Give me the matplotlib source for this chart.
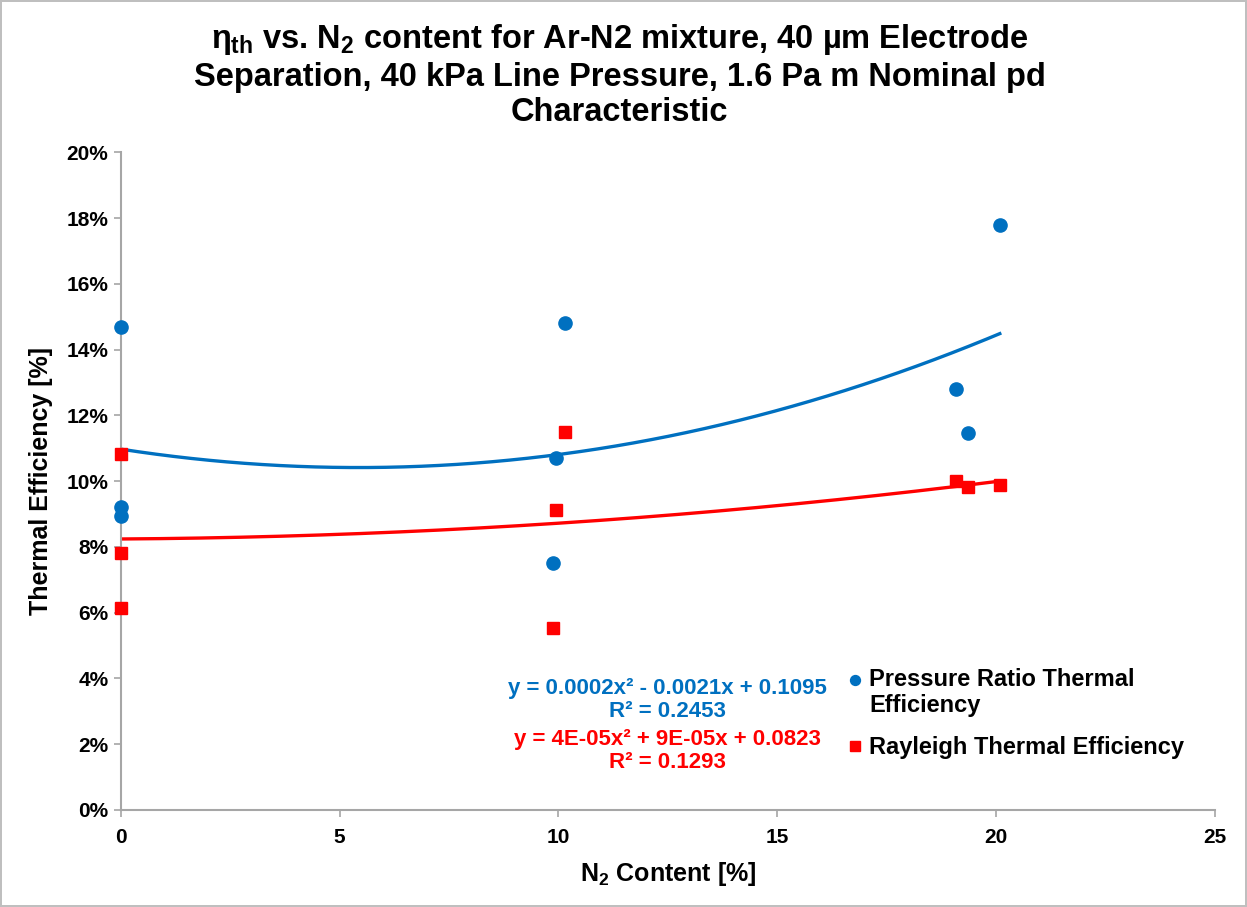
import numpy as np
import matplotlib.pyplot as plt
from matplotlib.ticker import PercentFormatter
from matplotlib.transforms import ScaledTranslation

plt.rcParams['font.family'] = ['Liberation Sans', 'DejaVu Sans']
plt.rcParams['font.weight'] = 'bold'
plt.rcParams['mathtext.fontset'] = 'custom'
plt.rcParams['mathtext.rm'] = 'Liberation Sans:bold'
plt.rcParams['mathtext.it'] = 'Liberation Sans:bold'
plt.rcParams['mathtext.bf'] = 'Liberation Sans:bold'

# N2 content [%] and efficiencies [fraction]
n2_blue = [0.0, 0.0, 0.0, 10.15, 9.95, 9.87, 19.1, 19.36, 20.09]
pr_eff = [0.1468, 0.0921, 0.0894, 0.1480, 0.1070, 0.0751, 0.1280, 0.1146, 0.1778]
n2_red = [0.0, 0.0, 0.0, 10.15, 9.95, 9.87, 19.1, 19.36, 20.09]
ray_eff = [0.1082, 0.0781, 0.0614, 0.1149, 0.0912, 0.0553, 0.1000, 0.0982, 0.0988]

pr_eq = 'y = 0.0002x² - 0.0021x + 0.1095'
ray_eq = 'y = 4E-05x² + 9E-05x + 0.0823'
pr_r2 = 0.2453
ray_r2 = 0.1293

BLUE = '#0070C0'
RED = '#FF0000'
GREY = '#A6A6A6'

fig = plt.figure(figsize=(12.47, 9.07), dpi=100)
fig.patch.set_edgecolor('#BFBFBF')
fig.patch.set_linewidth(1.5)
ax = fig.add_axes([0.097, 0.107, 0.877, 0.725])

# second order polynomial trendlines
pr_fit = np.polyfit(n2_blue, pr_eff, 2)
ray_fit = np.polyfit(n2_red, ray_eff, 2)
xs = np.linspace(0, max(n2_blue), 200)
ax.plot(xs, np.polyval(pr_fit, xs), color=BLUE, lw=2.4, zorder=2)
ax.plot(xs, np.polyval(ray_fit, xs), color=RED, lw=2.4, zorder=2)

ax.plot(n2_blue, pr_eff, 'o', color=BLUE, ms=9.5, ls='none',
        label='Pressure Ratio Thermal\nEfficiency', zorder=3, clip_on=False)
ax.plot(n2_red, ray_eff, 's', color=RED, ms=9, ls='none',
        label='Rayleigh Thermal Efficiency', zorder=3, clip_on=False)

ax.set_xlim(0, 25)
ax.set_ylim(0, 0.20)
ax.set_xticks(np.arange(0, 26, 5))
ax.set_yticks(np.arange(0, 0.201, 0.02))
ax.yaxis.set_major_formatter(PercentFormatter(1.0, decimals=0))
ax.tick_params(axis='both', labelsize=15, color=GREY, length=5, width=1.2)
ax.tick_params(axis='y', pad=4)
ax.tick_params(axis='x', pad=8)
for lbl in ax.get_xticklabels() + ax.get_yticklabels():
    lbl.set_fontweight('bold')

for side in ['top', 'right']:
    ax.spines[side].set_visible(False)
for side in ['left', 'bottom']:
    ax.spines[side].set_color(GREY)
    ax.spines[side].set_linewidth(1.5)

ax.set_xlabel(r'N$_2$ Content [%]', fontsize=18, fontweight='bold', labelpad=9)
ax.set_ylabel('Thermal Efficiency [%]', fontsize=18, fontweight='bold', labelpad=10)

fig.text(0.497, 0.976,
         r'$\eta_{\mathrm{th}}$ vs. N$_2$ content for Ar-N2 mixture, 40 µm Electrode' '\n'
         'Separation, 40 kPa Line Pressure, 1.6 Pa m Nominal pd\nCharacteristic',
         ha='center', va='top', fontsize=23.5, fontweight='bold', linespacing=1.2)

ax.text(0.5, 0.167, '%s\nR² = %.4f' % (pr_eq, pr_r2),
        transform=ax.transAxes, ha='center', va='center', color=BLUE,
        fontsize=16, fontweight='bold', linespacing=1.15)
ax.text(0.5, 0.09, '%s\nR² = %.4f' % (ray_eq, ray_r2),
        transform=ax.transAxes, ha='center', va='center', color=RED,
        fontsize=16, fontweight='bold', linespacing=1.15)

leg = ax.legend(loc='upper left', bbox_to_anchor=(0.654, 0.234), frameon=False,
                prop={'size': 17, 'weight': 'bold'}, handlelength=0.6, borderpad=0,
                handletextpad=0.3, labelspacing=0.8, markerscale=0.75)
# put the first marker level with the first line of its two-line label
h0 = leg.legend_handles[0]
h0.set_transform(h0.get_transform() + ScaledTranslation(0, 0.13, fig.dpi_scale_trans))

fig.savefig('out.png', dpi=100, edgecolor=fig.get_edgecolor())
